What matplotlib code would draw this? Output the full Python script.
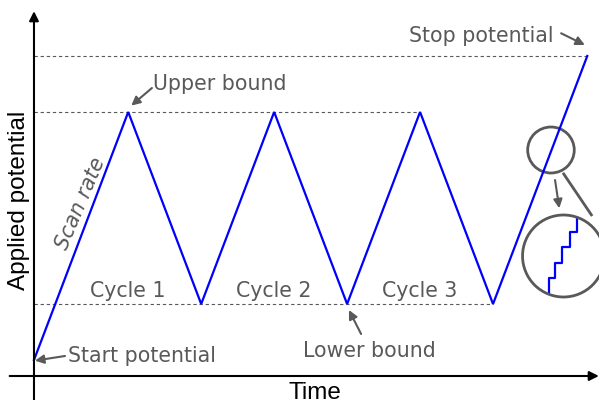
"""
Esquema de voltametría cíclica: potencial aplicado frente al tiempo
"""

import matplotlib
matplotlib.use('Agg')
import matplotlib.pyplot as plt
from matplotlib.patches import Ellipse

# Datos: vértices de la rampa de potencial
times = [0.0, 1.55, 2.75, 3.95, 5.15, 6.35, 7.55, 9.1]
potentials = [0.1, 1.65, 0.45, 1.65, 0.45, 1.65, 0.45, 2.0]
start_E, lower_E, upper_E, stop_E = 0.1, 0.45, 1.65, 2.0
cycle_labels = ['Cycle 1', 'Cycle 2', 'Cycle 3']
cycle_times = [1.55, 3.95, 6.35]

# Detalle de la lupa (escalones digitales)
stair_t = [8.475, 8.475, 8.569, 8.569, 8.689, 8.689, 8.816, 8.816, 8.936, 8.936]
stair_E = [0.52, 0.6125, 0.6125, 0.704, 0.704, 0.804, 0.804, 0.898, 0.898, 0.985]

gray = '#595959'
blue = '#0000ff'

fig = plt.figure(figsize=(5.99, 4.0), dpi=100)
ax = fig.add_axes([0, 0, 1, 1])
ax.set_xlim(-0.559, 9.293)
ax.set_ylim(-0.15, 2.35)
ax.axis('off')

# Ejes con flechas
ax.annotate('', xy=(0, 2.28), xytext=(0, -0.15),
            arrowprops=dict(arrowstyle='-|>', color='black', lw=1.5,
                            mutation_scale=14, shrinkA=0, shrinkB=0))
ax.annotate('', xy=(9.29, 0), xytext=(-0.40, 0),
            arrowprops=dict(arrowstyle='-|>', color='black', lw=1.5,
                            mutation_scale=14, shrinkA=0, shrinkB=0))

# Líneas de referencia punteadas
dash = dict(color=gray, lw=0.8, ls=(0, (3, 2.5)))
ax.plot([0, times[-1]], [stop_E, stop_E], **dash)
ax.plot([0, cycle_times[-1]], [upper_E, upper_E], **dash)
ax.plot([0, times[-2]], [lower_E, lower_E], **dash)

# Rampa
ax.plot(times, potentials, color=blue, lw=1.6, solid_joinstyle='miter')

txt = dict(color=gray, fontsize=14.8, family='DejaVu Sans')
arr = dict(arrowstyle='-|>', color=gray, lw=1.5, mutation_scale=13,
           shrinkA=0, shrinkB=0)

ax.text(1.96, 1.788, 'Upper bound', ha='left', va='baseline', **txt)
ax.annotate('', xy=(1.60, 1.69), xytext=(1.94, 1.80), arrowprops=arr)

ax.text(8.54, 2.09, 'Stop potential', ha='right', va='baseline', **txt)
ax.annotate('', xy=(9.06, 2.069), xytext=(8.67, 2.142), arrowprops=arr)

ax.text(0.564, 0.09, 'Start potential', ha='left', va='baseline', **txt)
ax.annotate('', xy=(0.016, 0.096), xytext=(0.51, 0.125), arrowprops=arr)

ax.text(5.52, 0.12, 'Lower bound', ha='center', va='baseline', **txt)
ax.annotate('', xy=(5.18, 0.4125), xytext=(5.38, 0.2625), arrowprops=arr)

for lab, t in zip(cycle_labels, cycle_times):
    ax.text(t, 0.492, lab, ha='center', va='baseline', **txt)

ax.text(0.76, 1.08, 'Scan rate', rotation=67, style='italic',
        ha='center', va='center', rotation_mode='anchor', **txt)

ax.text(-0.247, 1.10, 'Applied potential', rotation=90, ha='center',
        va='center', fontsize=17.5, family='Liberation Sans', color='black')
ax.text(4.62, -0.0375, 'Time', ha='center', va='top', fontsize=17.5,
        family='Liberation Sans', color='black')

# Lupa
ax.add_patch(Ellipse((8.503, 1.4125), 0.766, 0.2875, fill=False, ec=gray,
                     lw=2.0))
ax.add_patch(Ellipse((8.71, 0.75), 1.349, 0.5125, fill=False, ec=gray,
                     lw=2.0, zorder=3))
ax.plot([8.70, 9.18], [1.27, 1.0], color=gray, lw=2.0,
        solid_capstyle='butt')
ax.annotate('', xy=(8.64, 1.048), xytext=(8.57, 1.225), arrowprops=arr)
ax.plot(stair_t, stair_E, color=blue, lw=1.6, zorder=2)

plt.savefig('out.png', dpi=100)
plt.close()
